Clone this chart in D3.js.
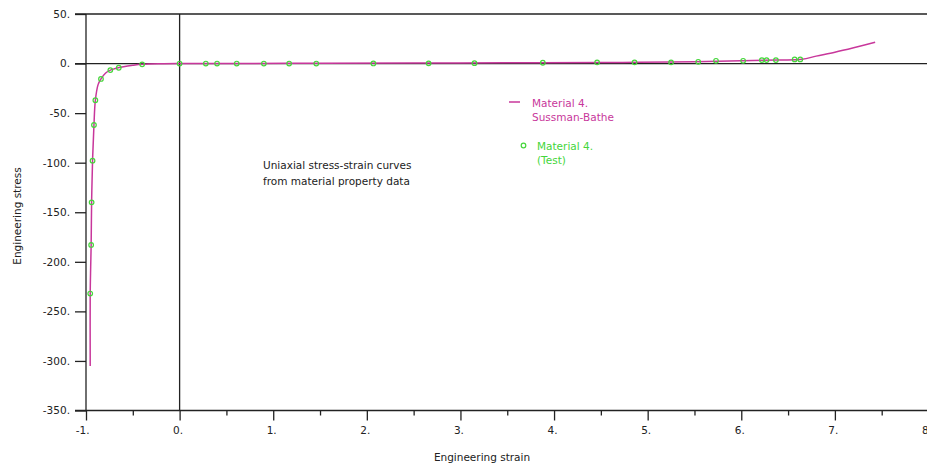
<!DOCTYPE html>
<html>
<head>
<meta charset="utf-8">
<script src="https://cdn.jsdelivr.net/npm/d3@7"></script>
<style>
  body { margin: 0; background: #fff; }
  text { font-family: "DejaVu Sans", sans-serif; font-size: 10.5px; fill: #222; }
</style>
</head>
<body>
<svg width="927" height="470"></svg>
<script>
// Sussman-Bathe fit (line)
const curveStrain = [-0.955, -0.955, -0.95, -0.945, -0.94, -0.93, -0.915, -0.9, -0.87, -0.84, -0.79, -0.74, -0.68, -0.6, -0.5, -0.4, -0.2, 0,
                     0.5, 1.5, 2.5, 3.5, 4.5, 4.9, 5.5, 6.0, 6.4, 6.65, 6.8, 7.0, 7.2, 7.43];
const curveStress = [-305, -232, -205, -183, -140, -98, -62, -37, -21, -15.5, -9.5, -6.6, -4.8, -3.2, -1.8, -0.8, -0.2, 0,
                     0.1, 0.3, 0.5, 0.7, 1.1, 1.3, 1.9, 2.8, 3.6, 4.3, 7.5, 11.5, 16, 21.5];

// test data (circles)
const testStrain = [-0.955, -0.945, -0.94, -0.93, -0.915, -0.9, -0.84, -0.74, -0.65, -0.4, 0,
                    0.28, 0.4, 0.61, 0.9, 1.17, 1.46, 2.07, 2.66, 3.15, 3.88, 4.46, 4.86, 5.25, 5.54, 5.73, 6.02, 6.22, 6.27, 6.37, 6.57, 6.63];
const testStress = [-232, -183, -140, -98, -62, -37, -15.5, -6.6, -4.2, -0.8, 0,
                    0, 0, 0, 0, 0, 0, 0.1, 0.2, 0.4, 0.8, 1.2, 1.2, 1.2, 1.8, 2.8, 2.8, 3.5, 3.5, 3.5, 4.2, 4.2];

const yTicks = [50, 0, -50, -100, -150, -200, -250, -300, -350];
const xTicks = [-1, 0, 1, 2, 3, 4, 5, 6, 7, 8];
const xMinor = [-0.5, 0.5, 1.5, 2.5, 3.5, 4.5, 5.5, 6.5, 7.5];

const lineColor = '#c8379b', testColor = '#44d63a';

let svg = d3.select('svg');
let x = d3.scaleLinear().domain([-1, 8]).range([86, 928.5]);
let y = d3.scaleLinear().domain([-350, 50]).range([410.5, 14]);

// axes
let yAxis = svg.append('g')
    .attr('transform', `translate(${x(-1)},0)`)
    .call(d3.axisLeft(y).tickValues(yTicks).tickSize(11).tickPadding(5).tickFormat(d => d + '.'));

let xAxis = svg.append('g')
    .attr('transform', `translate(0,${y(-350)})`)
    .call(d3.axisBottom(x).tickValues(xTicks).tickSize(10).tickPadding(6).tickFormat(d => d + '.'));

svg.append('g')
    .attr('transform', `translate(0,${y(-350)})`)
    .call(d3.axisBottom(x).tickValues(xMinor).tickSize(5).tickFormat(''))
    .select('.domain').remove();

svg.selectAll('.domain').remove();
svg.selectAll('.tick line').attr('stroke', '#222').attr('stroke-width', 1.3);
xAxis.selectAll('text').attr('text-anchor', 'end').attr('dx', 3);

// frame lines
let frame = [
    [x(-1) - 11, y(50), 927, y(50)],
    [x(-1) - 11, y(0), 927, y(0)],
    [x(-1) - 11, y(-350), 927, y(-350)],
    [x(-1), y(50), x(-1), y(-350)],
    [x(0), y(50), x(0), y(-350)]
];
svg.append('g').selectAll('line')
    .data(frame)
    .enter()
    .append('line')
    .attr('x1', d => d[0]).attr('y1', d => d[1])
    .attr('x2', d => d[2]).attr('y2', d => d[3])
    .attr('stroke', '#222')
    .attr('stroke-width', 1.3);

// curve
let line = d3.line()
    .x(d => x(d[0]))
    .y(d => y(d[1]))
    .curve(d3.curveMonotoneX);

svg.append('path')
    .datum(d3.zip(curveStrain, curveStress))
    .attr('d', d3.line().x(d => x(d[0])).y(d => y(d[1])).curve(d3.curveCatmullRom.alpha(0.5)))
    .attr('fill', 'none')
    .attr('stroke', lineColor)
    .attr('stroke-width', 1.5);

// test points
svg.append('g').selectAll('circle')
    .data(d3.zip(testStrain, testStress))
    .enter()
    .append('circle')
    .attr('cx', d => x(d[0]))
    .attr('cy', d => y(d[1]))
    .attr('r', 2.3)
    .attr('fill', 'none')
    .attr('stroke', testColor)
    .attr('stroke-width', 1.2);

// legend
svg.append('line')
    .attr('x1', 509).attr('x2', 520).attr('y1', 102).attr('y2', 102)
    .attr('stroke', lineColor).attr('stroke-width', 1.5);
svg.append('text').attr('x', 532).attr('y', 106.5).style('fill', lineColor).text('Material 4.');
svg.append('text').attr('x', 532).attr('y', 121).style('fill', lineColor).text('Sussman-Bathe');

svg.append('circle').attr('cx', 523.5).attr('cy', 145.5).attr('r', 2.3)
    .attr('fill', 'none').attr('stroke', testColor).attr('stroke-width', 1.2);
svg.append('text').attr('x', 537).attr('y', 150).style('fill', testColor).text('Material 4.');
svg.append('text').attr('x', 537).attr('y', 164).style('fill', testColor).text('(Test)');

// annotation
svg.append('text').attr('x', 263).attr('y', 169).text('Uniaxial stress-strain curves');
svg.append('text').attr('x', 263).attr('y', 185).text('from material property data');

// axis titles
svg.append('text')
    .attr('x', 482).attr('y', 461)
    .attr('text-anchor', 'middle')
    .text('Engineering strain');

svg.append('text')
    .attr('transform', 'translate(21,216) rotate(-90)')
    .attr('text-anchor', 'middle')
    .text('Engineering stress');
</script>
</body>
</html>
